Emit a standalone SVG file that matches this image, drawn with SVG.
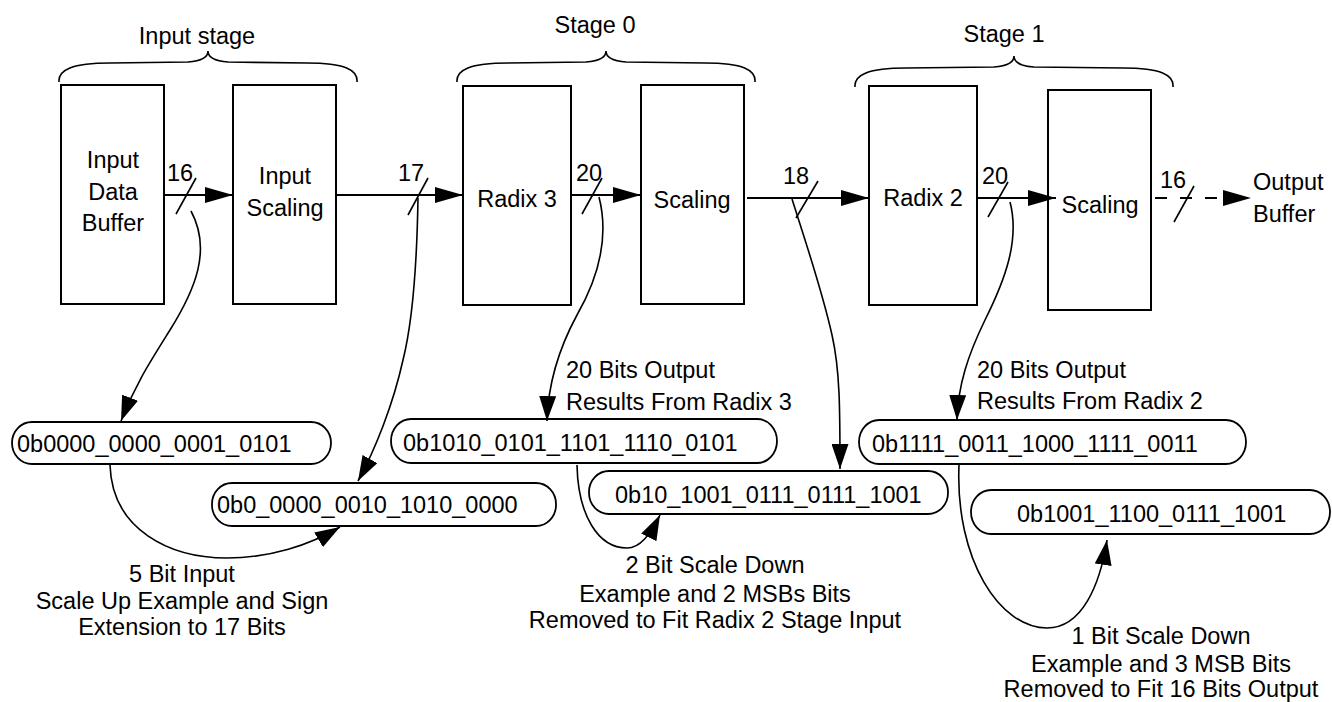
<svg xmlns="http://www.w3.org/2000/svg" width="1332" height="702" viewBox="0 0 1332 702">
<defs>
<style>
text{font-family:"Liberation Sans",Arial,sans-serif;font-size:23.5px;fill:#000}
.mid{text-anchor:middle}
.box{fill:#fff;stroke:#000;stroke-width:2}
.pill{fill:#fff;stroke:#000;stroke-width:1.8}
.wire{fill:none;stroke:#000;stroke-width:2}
.curve{fill:none;stroke:#000;stroke-width:1.6}
.slash{fill:none;stroke:#000;stroke-width:1.6}
.brace{fill:none;stroke:#000;stroke-width:1.6}
</style>
<marker id="ah" markerUnits="userSpaceOnUse" markerWidth="28" markerHeight="16" refX="28" refY="8" orient="auto">
<path d="M0,0 L28,8 L0,16 z" fill="#000"/>
</marker>
<marker id="ahc" markerUnits="userSpaceOnUse" markerWidth="25" markerHeight="17" refX="25" refY="8.5" orient="auto">
<path d="M0,0 L25,8.5 L0,17 z" fill="#000"/>
</marker>
</defs>
<rect width="1332" height="702" fill="#fff"/>

<g id="braces">
<path class="brace" d="M59,82 C58,70 72,63 110,63 L188,62 C202,61 208,57 208,51 C208,57 214,61 228,62 L307,63 C345,63 358,70 357,82"/>
<text class="mid" x="197" y="44">Input stage</text>
<path class="brace" d="M457,82 C456,70 470,63 508,63 L586,62 C600,61 606,57 606,51 C606,57 612,61 626,62 L705,63 C743,63 756,70 755,82"/>
<text class="mid" x="595" y="33">Stage 0</text>
<path class="brace" d="M855,87 C854,75 868,68 906,68 L994,67 C1008,66 1014,62 1014,56 C1014,62 1020,66 1034,67 L1123,68 C1161,68 1174,75 1173,87"/>
<text class="mid" x="1004" y="42">Stage 1</text>
</g>

<g id="input-data-buffer">
<rect class="box" x="61" y="85" width="103" height="219"/>
<text class="mid" x="113" y="168">Input</text>
<text class="mid" x="113" y="200">Data</text>
<text class="mid" x="113" y="231">Buffer</text>
</g>
<g id="input-scaling">
<rect class="box" x="233" y="85" width="103" height="219"/>
<text class="mid" x="285" y="184">Input</text>
<text class="mid" x="285" y="216">Scaling</text>
</g>
<g id="radix3">
<rect class="box" x="463" y="86" width="108" height="219"/>
<text class="mid" x="517" y="207">Radix 3</text>
</g>
<g id="scaling0">
<rect class="box" x="641" y="85" width="103" height="219"/>
<text class="mid" x="692" y="208">Scaling</text>
</g>
<g id="radix2">
<rect class="box" x="869" y="86" width="108" height="219"/>
<text class="mid" x="923" y="206">Radix 2</text>
</g>
<g id="scaling1">
<rect class="box" x="1048" y="90" width="103" height="220"/>
<text class="mid" x="1100" y="213">Scaling</text>
</g>
<g id="output-buffer">
<text x="1253" y="190">Output</text>
<text x="1253" y="222">Buffer</text>
</g>

<g id="n1">
<rect class="pill" x="12" y="422" width="319" height="42" rx="20" ry="21"/>
<text x="17" y="452">0b0000_0000_0001_0101</text>
</g>
<g id="n2">
<rect class="pill" x="212" y="483" width="344" height="43" rx="20" ry="21"/>
<text x="217" y="513">0b0_0000_0010_1010_0000</text>
</g>
<g id="n3">
<rect class="pill" x="391" y="419" width="386" height="44" rx="20" ry="22"/>
<text x="403" y="451">0b1010_0101_1101_1110_0101</text>
</g>
<g id="n4">
<rect class="pill" x="589" y="471" width="359" height="43" rx="20" ry="21"/>
<text x="615" y="503">0b10_1001_0111_0111_1001</text>
</g>
<g id="n5">
<rect class="pill" x="859" y="420" width="387" height="44" rx="20" ry="22"/>
<text x="872" y="452">0b1111_0011_1000_1111_0011</text>
</g>
<g id="n6">
<rect class="pill" x="971" y="490" width="359" height="44" rx="20" ry="22"/>
<text x="1017" y="522">0b1001_1100_0111_1001</text>
</g>

<g id="connectors">
<path class="wire" d="M164,195 L233,195" marker-end="url(#ah)"/>
<path class="wire" d="M336,195 L463,195" marker-end="url(#ah)"/>
<path class="wire" d="M571,195 L641,195" marker-end="url(#ah)"/>
<path class="wire" d="M747,198 L869,198" marker-end="url(#ah)"/>
<path class="wire" d="M977,198 L1056,198" marker-end="url(#ah)"/>
<path class="wire" d="M1155,198 L1251,198" stroke-dasharray="12 13" marker-end="url(#ah)"/>

<line class="slash" x1="176" y1="214" x2="196" y2="178"/>
<line class="slash" x1="408" y1="215" x2="428" y2="178"/>
<line class="slash" x1="582" y1="214" x2="602" y2="178"/>
<line class="slash" x1="796" y1="218" x2="818" y2="181"/>
<line class="slash" x1="988" y1="217" x2="1008" y2="182"/>
<line class="slash" x1="1174" y1="222" x2="1194" y2="186"/>
<text x="167" y="181">16</text>
<text x="398" y="181">17</text>
<text x="576" y="181">20</text>
<text x="783" y="184">18</text>
<text x="982" y="184">20</text>
<text x="1160" y="188">16</text>

<path class="curve" d="M191,211 C212,250 195,290 170,330 C150,362 135,385 121,421" marker-end="url(#ahc)"/>
<path class="curve" d="M418,198 C417,260 413,320 403,360 C393,405 375,450 358,481" marker-end="url(#ahc)"/>
<path class="curve" d="M599,197 C610,240 597,280 577,315 C557,352 548,385 547,421" marker-end="url(#ahc)"/>
<path class="curve" d="M792,199 C805,240 822,290 832,335 C840,370 840,410 840,469" marker-end="url(#ahc)"/>
<path class="curve" d="M1010,202 C1020,240 1005,280 985,320 C968,355 958,385 957,420" marker-end="url(#ahc)"/>
<path class="curve" d="M110,465 C112,530 170,558 227,558 C270,558 310,545 340,527" marker-end="url(#ahc)"/>
<path class="curve" d="M577,465 C578,515 598,548 627,548 C640,548 650,535 660,515" marker-end="url(#ahc)"/>
<path class="curve" d="M959,465 C955,560 1000,628 1047,628 C1082,628 1100,585 1107,540" marker-end="url(#ahc)"/>

<text x="566" y="378">20 Bits Output</text>
<text x="566" y="410">Results From Radix 3</text>
<text x="977" y="378">20 Bits Output</text>
<text x="977" y="409">Results From Radix 2</text>

<text class="mid" x="182" y="582">5 Bit Input</text>
<text class="mid" x="182" y="609">Scale Up Example and Sign</text>
<text class="mid" x="182" y="635">Extension to 17 Bits</text>

<text class="mid" x="715" y="573">2 Bit Scale Down</text>
<text class="mid" x="715" y="602">Example and 2 MSBs Bits</text>
<text class="mid" x="715" y="628">Removed to Fit Radix 2 Stage Input</text>

<text class="mid" x="1161" y="644">1 Bit Scale Down</text>
<text class="mid" x="1161" y="672">Example and 3 MSB Bits</text>
<text class="mid" x="1161" y="697">Removed to Fit 16 Bits Output</text>
</g>
</svg>
